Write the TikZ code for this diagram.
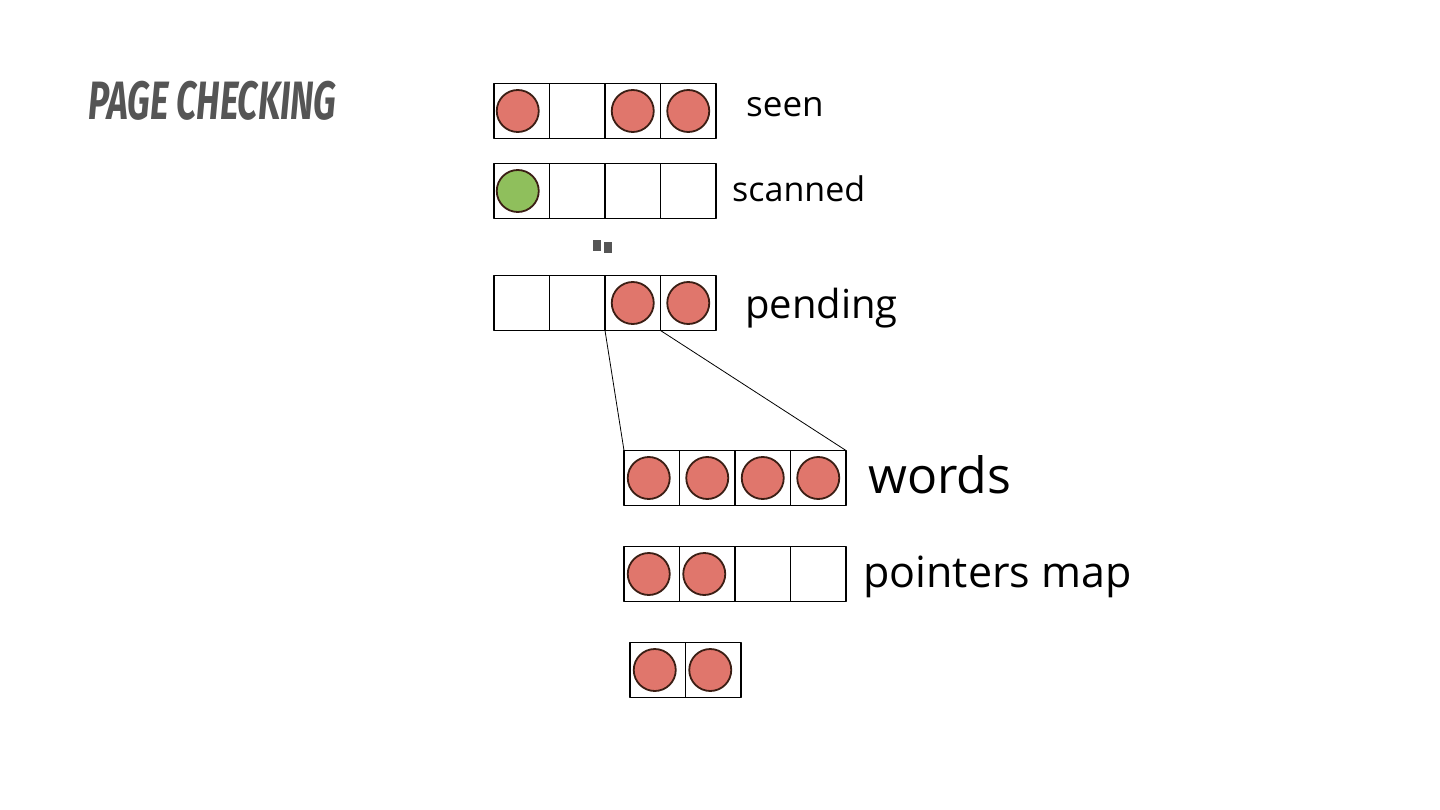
\documentclass[tikz,border=0pt]{standalone}
\usepackage{fontspec}
\setmainfont{Open Sans}
\newfontfamily\titlefont{Fira Sans}
\usetikzlibrary{positioning}
\definecolor{beadred}{HTML}{E0766C}
\definecolor{beadgreen}{HTML}{8FBF5C}
\definecolor{beadline}{HTML}{3B1E14}
\definecolor{titlegray}{HTML}{555555}

\begin{document}
\begin{tikzpicture}[x=1pt,y=-1pt,line cap=round,line join=round,
  cell/.style={draw,line width=1.3pt,minimum width=55.5pt,minimum height=55pt,inner sep=0pt,outer sep=0pt},
  redbead/.style={circle,draw=beadline,line width=1.8pt,fill=beadred,minimum size=42pt,inner sep=0pt},
  greenbead/.style={redbead,fill=beadgreen},
  rowlabel/.style={anchor=base west,inner sep=0pt}]
\useasboundingbox (0,0) rectangle (1440,810);
% title
\node[anchor=base west,inner sep=0pt,xscale=0.66,text=titlegray,font=\titlefont\fontsize{54}{60}\selectfont\bfseries\itshape] (title) at (88,120) {PAGE CHECKING};
% seen
\node[cell] (seen1) at (521.75,111) {};
\node[cell,right=0pt of seen1] (seen2) {};
\node[cell,right=0pt of seen2] (seen3) {};
\node[cell,right=0pt of seen3] (seen4) {};
\node[redbead,xshift=-4pt] (bseen1) at (seen1) {};
\node[redbead] (bseen3) at (seen3) {};
\node[redbead] (bseen4) at (seen4) {};
\node[rowlabel,font=\fontsize{35}{40}\selectfont] (seenlbl) at (746,117) {seen};
% scanned
\node[cell] (scan1) at (521.75,191) {};
\node[cell,right=0pt of scan1] (scan2) {};
\node[cell,right=0pt of scan2] (scan3) {};
\node[cell,right=0pt of scan3] (scan4) {};
\node[greenbead,xshift=-4pt] (bscan1) at (scan1) {};
\node[rowlabel,font=\fontsize{34}{40}\selectfont] (scanlbl) at (732,202) {scanned};
% gap marks
\fill[titlegray] (593,240) rectangle (601,251);
\fill[titlegray] (604,242) rectangle (612,253);
% pending
\node[cell] (pend1) at (521.75,303) {};
\node[cell,right=0pt of pend1] (pend2) {};
\node[cell,right=0pt of pend2] (pend3) {};
\node[cell,right=0pt of pend3] (pend4) {};
\node[redbead] (bpend3) at (pend3) {};
\node[redbead] (bpend4) at (pend4) {};
\node[rowlabel,font=\fontsize{40}{46}\selectfont] (pendlbl) at (745,318) {pending};
% words
\node[cell] (word1) at (651.75,478) {};
\node[cell,right=0pt of word1] (word2) {};
\node[cell,right=0pt of word2] (word3) {};
\node[cell,right=0pt of word3] (word4) {};
\node[redbead,xshift=-3pt] (bword1) at (word1) {};
\node[redbead] (bword2) at (word2) {};
\node[redbead] (bword3) at (word3) {};
\node[redbead] (bword4) at (word4) {};
\node[rowlabel,font=\fontsize{50}{56}\selectfont] (wordlbl) at (868,493) {words};
% zoom lines
\draw[line width=0.8pt] (pend3.south west) -- (word1.north west);
\draw[line width=0.8pt] (pend4.south west) -- (word4.north east);
% pointers map
\node[cell] (ptr1) at (651.75,574) {};
\node[cell,right=0pt of ptr1] (ptr2) {};
\node[cell,right=0pt of ptr2] (ptr3) {};
\node[cell,right=0pt of ptr3] (ptr4) {};
\node[redbead,xshift=-3pt] (bptr1) at (ptr1) {};
\node[redbead,xshift=-3pt] (bptr2) at (ptr2) {};
\node[rowlabel,font=\fontsize{43}{50}\selectfont] (ptrlbl) at (863,587) {pointers map};
% last row
\node[cell] (last1) at (657.75,670) {};
\node[cell,right=0pt of last1] (last2) {};
\node[redbead,xshift=-3pt] (blast1) at (last1) {};
\node[redbead,xshift=-3pt] (blast2) at (last2) {};
\end{tikzpicture}
\end{document}
